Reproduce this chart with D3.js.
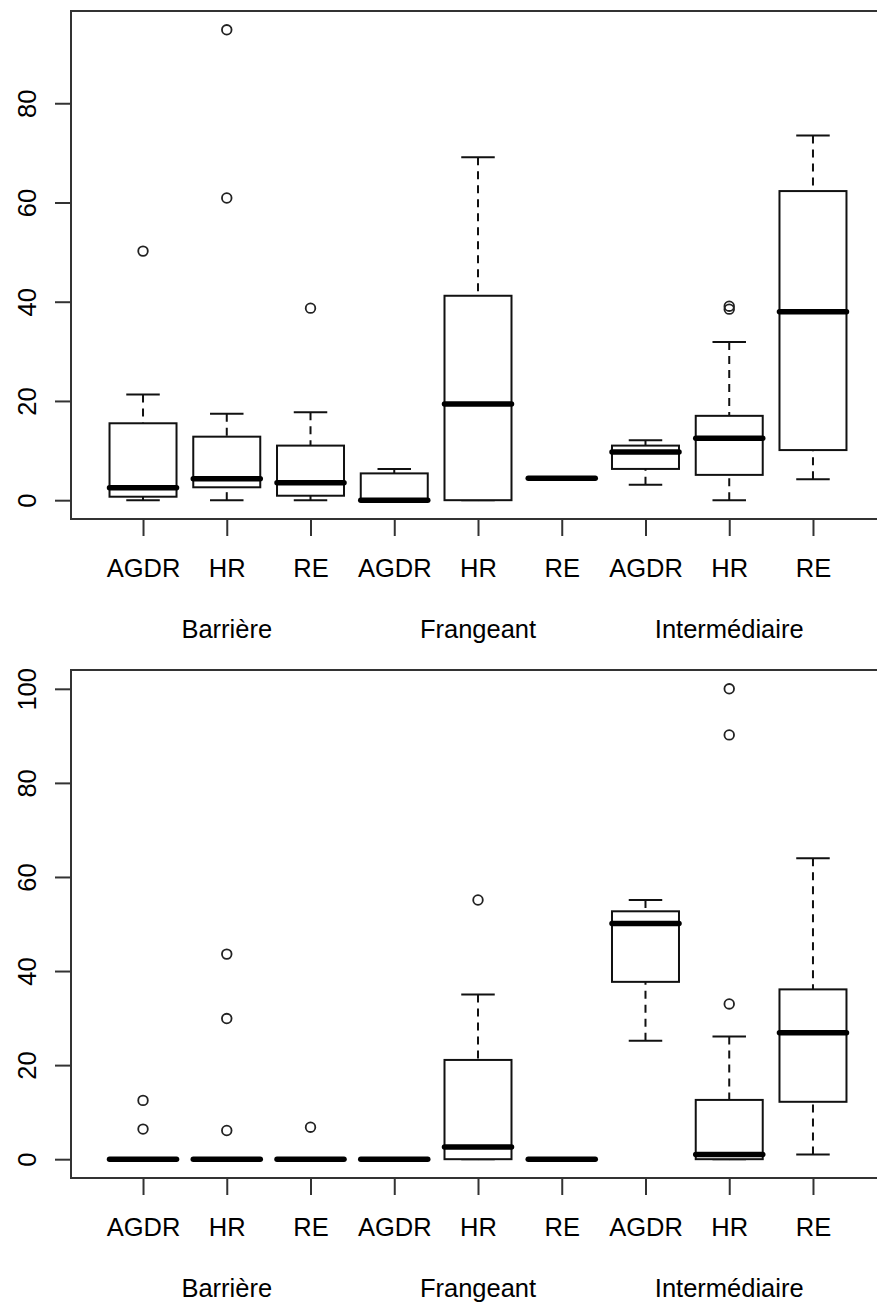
<!DOCTYPE html>
<html>
<head>
<meta charset="utf-8">
<script src="https://cdn.jsdelivr.net/npm/d3@7"></script>
<style>
  html, body { margin: 0; padding: 0; background: #fff; }
  svg { display: block; }
  text { font-family: "Liberation Sans", Arial, sans-serif; fill: #000; }
</style>
</head>
<body>
<svg id="chart" width="877" height="1302"></svg>
<script>
// ---- data ----
const types = ["AGDR", "HR", "RE"];
const sites = ["Barrière", "Frangeant", "Intermédiaire"];

// top panel: five-number summaries (lower whisker, Q1, median, Q3, upper whisker) per box
const topLow  = [0,    0,    0,    0,   0,    4.4, 3.1,  0,    4.2];
const topQ1   = [0.7,  2.6,  0.9,  0,   0,    4.4, 6.3,  5.1,  10.1];
const topMed  = [2.5,  4.3,  3.5,  0,   19.4, 4.4, 9.7,  12.5, 38.0];
const topQ3   = [15.5, 12.8, 11.0, 5.4, 41.2, 4.4, 11.0, 17.0, 62.3];
const topHigh = [21.3, 17.4, 17.7, 6.3, 69.1, 4.4, 12.1, 31.9, 73.5];
const topOut  = [[50.2], [94.8, 60.9], [38.7], [], [], [], [], [38.5, 39.1], []];
const topTicks = [0, 20, 40, 60, 80];

// bottom panel
const botLow  = [0, 0, 0, 0, 0,    0, 25.2, 0,    1.0];
const botQ1   = [0, 0, 0, 0, 0,    0, 37.7, 0,    12.2];
const botMed  = [0, 0, 0, 0, 2.6,  0, 50.1, 1.0,  26.9];
const botQ3   = [0, 0, 0, 0, 21.1, 0, 52.7, 12.6, 36.1];
const botHigh = [0, 0, 0, 0, 35.0, 0, 55.1, 26.1, 64.0];
const botOut  = [[12.5, 6.4], [43.6, 29.9, 6.1], [6.8], [], [55.1], [], [], [100, 90.2, 33.0], []];
const botTicks = [0, 20, 40, 60, 80, 100];

// ---- drawing ----
const svg = d3.select("#chart");
const positions = d3.range(1, 10);
const x = d3.scaleLinear().domain([0.14, 9.86]).range([71, 885]);
const boxW = x(0.8) - x(0);
const capW = boxW / 2;
const FONT = 25.5;

function panel(top, bottom, low, q1, med, q3, high, outs, ticks) {
  const all = [].concat(low, high, ...outs);
  const lo = d3.min(all), hi = d3.max(all);
  const pad = (hi - lo) * 0.04;
  const y = d3.scaleLinear().domain([lo - pad, hi + pad]).range([bottom, top]);
  const g = svg.append("g");

  const boxes = positions.map((p, i) => ({p, low: low[i], q1: q1[i], med: med[i], q3: q3[i], high: high[i], out: outs[i]}));

  const bg = g.selectAll("g.box").data(boxes).join("g").attr("class", "box");

  // whiskers (dashed)
  bg.append("line")
    .attr("x1", d => x(d.p)).attr("x2", d => x(d.p))
    .attr("y1", d => y(d.high)).attr("y2", d => y(d.q3))
    .attr("stroke", "#111").attr("stroke-width", 2).attr("stroke-dasharray", "8,6");
  bg.append("line")
    .attr("x1", d => x(d.p)).attr("x2", d => x(d.p))
    .attr("y1", d => y(d.low)).attr("y2", d => y(d.q1))
    .attr("stroke", "#111").attr("stroke-width", 2).attr("stroke-dasharray", "8,6");
  // staples
  ["high", "low"].forEach(k => {
    bg.append("line")
      .attr("x1", d => x(d.p) - capW / 2).attr("x2", d => x(d.p) + capW / 2)
      .attr("y1", d => y(d[k])).attr("y2", d => y(d[k]))
      .attr("stroke", "#111").attr("stroke-width", 2);
  });
  // box
  bg.append("rect")
    .attr("x", d => x(d.p) - boxW / 2).attr("width", boxW)
    .attr("y", d => y(d.q3)).attr("height", d => y(d.q1) - y(d.q3))
    .attr("fill", "#fff").attr("stroke", "#111").attr("stroke-width", 2);
  // median
  bg.append("line")
    .attr("x1", d => x(d.p) - boxW / 2).attr("x2", d => x(d.p) + boxW / 2)
    .attr("y1", d => y(d.med)).attr("y2", d => y(d.med))
    .attr("stroke", "#000").attr("stroke-width", 5.5).attr("stroke-linecap", "round");
  // outliers
  bg.selectAll("circle").data(d => d.out.map(v => ({p: d.p, v}))).join("circle")
    .attr("cx", d => x(d.p)).attr("cy", d => y(d.v)).attr("r", 4.8)
    .attr("fill", "none").attr("stroke", "#222").attr("stroke-width", 1.8);

  // frame
  g.append("rect").attr("x", 71).attr("y", top).attr("width", 885 - 71).attr("height", bottom - top)
    .attr("fill", "none").attr("stroke", "#333").attr("stroke-width", 2);

  // y axis
  const ya = g.append("g").attr("transform", "translate(71,0)")
    .call(d3.axisLeft(y).tickValues(ticks).tickSize(16).tickFormat(d3.format("d")));
  ya.select(".domain").remove();
  ya.selectAll(".tick line").attr("stroke", "#333").attr("stroke-width", 2);
  ya.selectAll(".tick text")
    .attr("x", null).attr("dy", null)
    .attr("transform", "translate(-35,0) rotate(-90)")
    .attr("text-anchor", "middle")
    .style("font-family", "'Liberation Sans', Arial, sans-serif")
    .style("font-size", FONT + "px").attr("fill", "#000");

  // x axis
  const xa = g.append("g").attr("transform", `translate(0,${bottom})`)
    .call(d3.axisBottom(x).tickValues(positions).tickSize(17).tickFormat(i => types[(i - 1) % 3]));
  xa.select(".domain").remove();
  xa.selectAll(".tick line").attr("stroke", "#333").attr("stroke-width", 2);
  xa.selectAll(".tick text")
    .attr("y", 58).attr("dy", null)
    .attr("text-anchor", "middle")
    .style("font-family", "'Liberation Sans', Arial, sans-serif")
    .style("font-size", FONT + "px").attr("fill", "#000");

  // group labels
  g.selectAll("text.site").data(sites).join("text").attr("class", "site")
    .attr("x", (s, i) => x(i * 3 + 2)).attr("y", bottom + 119)
    .attr("text-anchor", "middle").style("font-size", FONT + "px")
    .text(s => s);
}

panel(11, 519, topLow, topQ1, topMed, topQ3, topHigh, topOut, topTicks);
panel(670, 1178, botLow, botQ1, botMed, botQ3, botHigh, botOut, botTicks);
</script>
</body>
</html>
